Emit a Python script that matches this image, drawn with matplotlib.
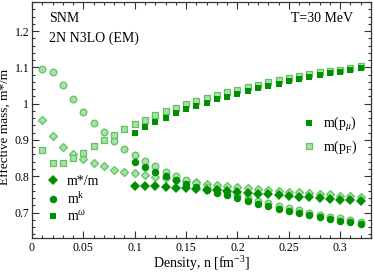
import numpy as np
import matplotlib
matplotlib.use("Agg")
import matplotlib.pyplot as plt
from matplotlib.lines import Line2D
from matplotlib.ticker import MultipleLocator, FuncFormatter

plt.rcParams['font.family'] = ['Liberation Serif', 'DejaVu Serif']
plt.rcParams['mathtext.fontset'] = 'custom'
plt.rcParams['mathtext.rm'] = 'Liberation Serif'
plt.rcParams['mathtext.it'] = 'Liberation Serif:italic'

# densities [fm^-3]
n_all = np.round(np.arange(1, 33) * 0.01, 2)
n_hi = n_all[9:]  # 0.10 ... 0.32

# light symbols: m(p_F)
mstar_pF = [0.954, 0.910, 0.880, 0.861, 0.847, 0.836, 0.827, 0.818, 0.813, 0.808,
            0.803, 0.798, 0.794, 0.790, 0.787, 0.783, 0.780, 0.777, 0.774, 0.771,
            0.768, 0.765, 0.763, 0.760, 0.758, 0.756, 0.754, 0.752, 0.750, 0.747,
            0.745, 0.742]
mk_pF = [1.096, 1.087, 1.051, 1.013, 0.978, 0.948, 0.921, 0.897, 0.875, 0.858,
         0.841, 0.827, 0.813, 0.801, 0.789, 0.782, 0.771, 0.764, 0.757, 0.749,
         0.741, 0.733, 0.726, 0.719, 0.713, 0.707, 0.700, 0.694, 0.689, 0.684,
         0.679, 0.674]
mw_pF = [0.871, 0.837, 0.837, 0.849, 0.865, 0.883, 0.899, 0.914, 0.929, 0.943,
         0.956, 0.968, 0.979, 0.989, 0.998, 1.007, 1.015, 1.024, 1.031, 1.038,
         1.046, 1.052, 1.059, 1.065, 1.071, 1.077, 1.082, 1.086, 1.090, 1.094,
         1.099, 1.103]

# dark symbols: m(p_mu), from n = 0.10
mstar_pmu = [0.773, 0.773, 0.772, 0.771, 0.769, 0.767, 0.765, 0.763, 0.761, 0.759,
             0.757, 0.755, 0.752, 0.750, 0.748, 0.746, 0.744, 0.742, 0.740, 0.738,
             0.736, 0.734, 0.732]
mk_pmu = [0.840, 0.826, 0.813, 0.802, 0.790, 0.779, 0.770, 0.762, 0.755, 0.748,
          0.740, 0.732, 0.724, 0.717, 0.710, 0.705, 0.699, 0.693, 0.688, 0.682,
          0.678, 0.674, 0.669]
mw_pmu = [0.920, 0.936, 0.949, 0.961, 0.973, 0.984, 0.994, 1.003, 1.013, 1.018,
          1.027, 1.034, 1.042, 1.049, 1.055, 1.062, 1.067, 1.073, 1.078, 1.084,
          1.088, 1.093, 1.097]

dark = '#008f00'
light_face = '#a8e0a8'
light_edge = '#62c262'

fig = plt.figure(figsize=(3.74, 2.73), dpi=100)
ax = fig.add_axes([32 / 374, 1 - 238 / 273, 339 / 374, 236 / 273])

lkw = dict(ls='none', mfc=light_face, mec=light_edge, mew=0.9)
ax.plot(n_all, mstar_pF, marker='D', ms=4.2, **lkw)
ax.plot(n_all, mk_pF, marker='o', ms=4.8, **lkw)
ax.plot(n_all, mw_pF, marker='s', ms=4.6, **lkw)

dkw = dict(ls='none', color=dark, mew=0)
ax.plot(n_hi, mstar_pmu, marker='D', ms=5.0, **dkw)
ax.plot(n_hi, mk_pmu, marker='o', ms=5.4, **dkw)
ax.plot(n_hi, mw_pmu, marker='s', ms=5.0, **dkw)

ax.set_xlim(0, 0.33)
ax.set_ylim(0.63, 1.28)
ax.xaxis.set_major_locator(MultipleLocator(0.05))
ax.xaxis.set_minor_locator(MultipleLocator(0.01))
ax.yaxis.set_major_locator(MultipleLocator(0.1))
ax.yaxis.set_minor_locator(MultipleLocator(0.02))
fmt = FuncFormatter(lambda v, p: '%g' % round(v, 4))
ax.xaxis.set_major_formatter(fmt)
ax.yaxis.set_major_formatter(fmt)
ax.tick_params(which='both', direction='in', top=True, right=True, labelsize=8.5,
               width=0.8, color='#333333')
ax.tick_params(which='major', length=5, pad=3)
ax.tick_params(axis='y', which='major', pad=2)
ax.tick_params(which='minor', length=2.5)
for s in ax.spines.values():
    s.set_linewidth(0.9)
    s.set_color('#333333')

ax.set_xlabel(r'Density, n [fm$^{-3}$]', fontsize=10, labelpad=0)
ax.set_ylabel('Effective mass, m*/m', fontsize=9.5)
ax.yaxis.set_label_coords(-0.059, 0.47)

ax.text(0.05, 0.932, 'SNM', transform=ax.transAxes, fontsize=10, va='center')
ax.text(0.05, 0.847, '2N N3LO (EM)', transform=ax.transAxes, fontsize=10, va='center')
ax.text(0.947, 0.928, 'T=30 MeV', transform=ax.transAxes, fontsize=10,
        va='center', ha='right')

h1 = [Line2D([], [], ls='none', marker='D', ms=5.0, color=dark, mew=0),
      Line2D([], [], ls='none', marker='o', ms=5.4, color=dark, mew=0),
      Line2D([], [], ls='none', marker='s', ms=5.0, color=dark, mew=0)]
leg1 = ax.legend(h1, ['m*/m', r'm$^{\mathrm{k}}$', r'm$^{\omega}$'],
                 loc='center left', bbox_to_anchor=(0.041, 0.163), frameon=False,
                 fontsize=10, handlelength=1, handletextpad=0.5, borderpad=0,
                 borderaxespad=0, labelspacing=0.2, numpoints=1)
ax.add_artist(leg1)

h2 = [Line2D([], [], ls='none', marker='s', ms=4.4, color=dark, mew=0),
      Line2D([], [], ls='none', marker='s', ms=4.0, mfc=light_face, mec=light_edge, mew=0.9)]
ax.legend(h2, [r'm(p$_{\mu}$)', r'm(p$_{\mathrm{F}}$)'],
          loc='center left', bbox_to_anchor=(0.796, 0.434), frameon=False,
          fontsize=10, handlelength=1, handletextpad=0.5, borderpad=0,
          borderaxespad=0, labelspacing=0.3, numpoints=1)

fig.savefig('out.png', dpi=100)
